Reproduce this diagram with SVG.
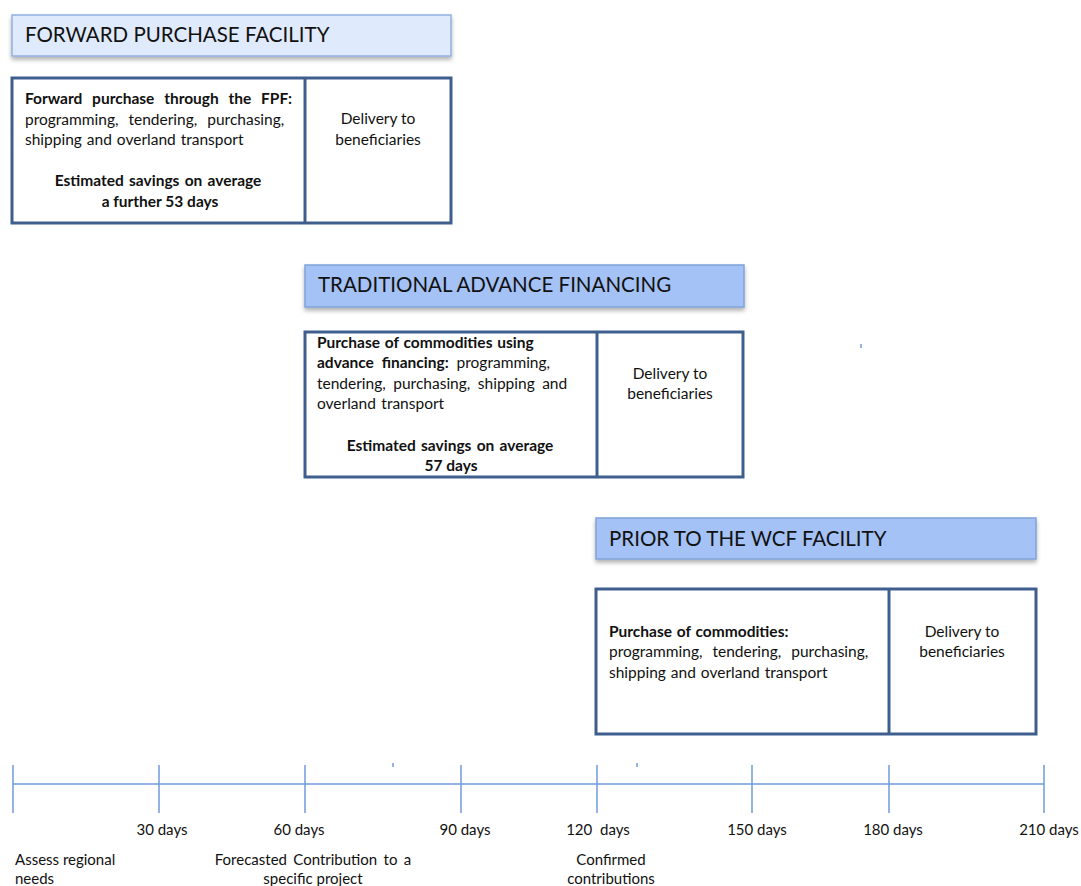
<svg xmlns="http://www.w3.org/2000/svg" width="1081" height="886" viewBox="0 0 1081 886">
<defs>
<filter id="sh" x="-5%" y="-20%" width="110%" height="160%">
<feDropShadow dx="0" dy="3" stdDeviation="2" flood-color="#000" flood-opacity="0.3"/>
</filter>
<style>
.hdr1{fill:#dfeafc;stroke:#8fb0e2;stroke-width:1.5}
.hdr{fill:#a4c2f6;stroke:#7fa3d8;stroke-width:1.5}
.box{fill:#fff;stroke:#3e5f8d;stroke-width:3}
.div{stroke:#3e5f8d;stroke-width:3}
.ht{font-family:Lato,"Liberation Sans",sans-serif;font-size:20.5px;fill:#111}
.t{font-family:Lato,"Liberation Sans",sans-serif;font-size:15.5px;fill:#111}
.l{font-family:Lato,"Liberation Sans",sans-serif;font-size:15px;fill:#111}
.b{font-weight:bold}
.c{text-anchor:middle}
.tl{stroke:#6f9bd6;stroke-width:1.5}
</style>
</defs>
<g id="fpf-header">
<rect class="hdr1" x="12" y="15" width="439" height="41" filter="url(#sh)"/>
<text class="ht" x="25" y="42">FORWARD PURCHASE FACILITY</text>
</g>
<g id="fpf-box">
<rect class="box" x="12" y="78" width="439" height="145"/>
<line class="div" x1="305" y1="78" x2="305" y2="223"/>
<text class="t b" x="25" y="104" word-spacing="6">Forward purchase through the FPF:</text>
<text class="t" x="25" y="125" word-spacing="6">programming, tendering, purchasing,</text>
<text class="t" x="25" y="145" word-spacing="1">shipping and overland transport</text>
<text class="t b c" x="158" y="186" word-spacing="1.5">Estimated savings on average</text>
<text class="t b c" x="160" y="207">a further 53 days</text>
<text class="t c" x="378" y="124">Delivery to</text>
<text class="t c" x="378" y="145">beneficiaries</text>
</g>
<g id="taf-header">
<rect class="hdr" x="305" y="265" width="439" height="42" filter="url(#sh)"/>
<text class="ht" x="318" y="292">TRADITIONAL ADVANCE FINANCING</text>
</g>
<g id="taf-box">
<rect class="box" x="305" y="332" width="438" height="145"/>
<line class="div" x1="597" y1="332" x2="597" y2="477"/>
<text class="t b" x="317" y="348" word-spacing="1">Purchase of commodities using</text>
<text class="t" x="317" y="368" word-spacing="4"><tspan class="b">advance financing:</tspan> programming,</text>
<text class="t" x="317" y="389" word-spacing="3.5">tendering, purchasing, shipping and</text>
<text class="t" x="317" y="409" word-spacing="1.5">overland transport</text>
<text class="t b c" x="450" y="451" word-spacing="1.5">Estimated savings on average</text>
<text class="t b c" x="451" y="471">57 days</text>
<text class="t c" x="670" y="379">Delivery to</text>
<text class="t c" x="670" y="399">beneficiaries</text>
</g>
<g id="prior-header">
<rect class="hdr" x="596" y="518" width="440" height="41" filter="url(#sh)"/>
<text class="ht" x="609" y="546">PRIOR TO THE WCF FACILITY</text>
</g>
<g id="prior-box">
<rect class="box" x="596" y="589" width="440" height="145"/>
<line class="div" x1="889" y1="589" x2="889" y2="734"/>
<text class="t b" x="609" y="637" word-spacing="1">Purchase of commodities:</text>
<text class="t" x="609" y="657" word-spacing="6">programming, tendering, purchasing,</text>
<text class="t" x="609" y="678" word-spacing="1">shipping and overland transport</text>
<text class="t c" x="962" y="637">Delivery to</text>
<text class="t c" x="962" y="657">beneficiaries</text>
</g>
<g id="timeline">
<line class="tl" x1="13" y1="784" x2="1044" y2="784"/>
<line class="tl" x1="13" y1="765" x2="13" y2="813"/>
<line class="tl" x1="159" y1="765" x2="159" y2="813"/>
<line class="tl" x1="305" y1="765" x2="305" y2="813"/>
<line class="tl" x1="461" y1="765" x2="461" y2="813"/>
<line class="tl" x1="597" y1="765" x2="597" y2="813"/>
<line class="tl" x1="752" y1="765" x2="752" y2="813"/>
<line class="tl" x1="889" y1="765" x2="889" y2="813"/>
<line class="tl" x1="1044" y1="765" x2="1044" y2="813"/>
<line class="tl" x1="393" y1="763" x2="393" y2="767" stroke-width="1"/>
<line class="tl" x1="637" y1="763" x2="637" y2="767" stroke-width="1"/>
<line class="tl" x1="861" y1="344" x2="861" y2="348" stroke-width="1"/>
</g>
<g id="labels">
<text class="l c" x="162" y="835">30 days</text>
<text class="l c" x="299" y="835">60 days</text>
<text class="l c" x="465" y="835">90 days</text>
<text class="l c" x="598" y="835" word-spacing="4">120 days</text>
<text class="l c" x="757" y="835">150 days</text>
<text class="l c" x="893" y="835">180 days</text>
<text class="l c" x="1049" y="835">210 days</text>
<text class="l" x="15" y="865">Assess regional</text>
<text class="l" x="15" y="884">needs</text>
<text class="l c" x="313" y="865" word-spacing="2.5">Forecasted Contribution to a</text>
<text class="l c" x="313" y="884">specific project</text>
<text class="l c" x="611" y="865">Confirmed</text>
<text class="l c" x="611" y="884">contributions</text>
</g>
</svg>
